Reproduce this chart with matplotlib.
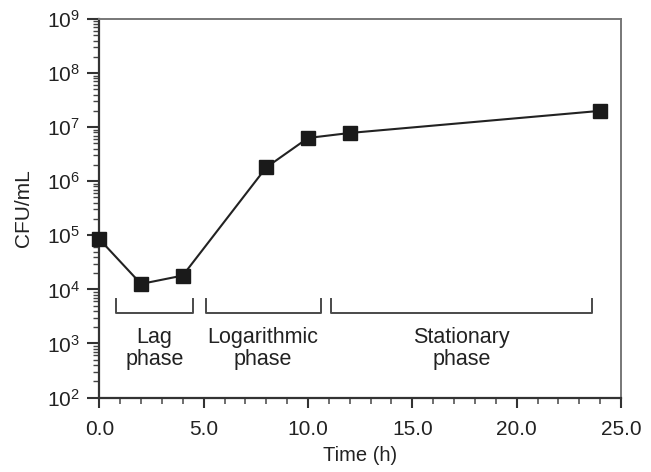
import matplotlib
matplotlib.use("Agg")
import matplotlib.pyplot as plt
from matplotlib.ticker import LogLocator, MultipleLocator, FuncFormatter

plt.rcParams['font.family'] = ['Liberation Sans', 'DejaVu Sans']

time_h = [0, 2, 4, 8, 10, 12, 24]
cfu = [8.5e4, 1.26e4, 1.8e4, 1.8e6, 6.3e6, 7.8e6, 2.0e7]

phase_labels = ["Lag\nphase", "Logarithmic\nphase", "Stationary\nphase"]
phase_start = [0.8, 5.1, 11.1]
phase_end = [4.5, 10.6, 23.6]

fig = plt.figure(figsize=(6.51, 4.72), dpi=100)
ax = fig.add_axes([99.3/651, 1-397.5/472, (621-99.3)/651, (397.5-19)/472])

ax.plot(time_h, cfu, color='#222222', lw=1.5, marker='s', ms=9.5,
        mfc='#1a1a1a', mec='#1a1a1a', zorder=3, clip_on=False)

ax.set_yscale('log')
ax.set_ylim(1e2, 1e9)
ax.set_xlim(0, 25)

br_top, br_bot = 6.5e3, 3.6e3
for s, e, lab in zip(phase_start, phase_end, phase_labels):
    ax.plot([s, s, e, e], [br_top, br_bot, br_bot, br_top], color='#4a4a4a', lw=1.4)
    ax.text((s + e) / 2, 8.0e2, lab, ha='center', va='center', fontsize=15.5,
            color='#222222', linespacing=1.1)

ax.xaxis.set_major_locator(MultipleLocator(5))
ax.xaxis.set_minor_locator(MultipleLocator(1))
ax.xaxis.set_major_formatter(FuncFormatter(lambda v, p: f"{v:.1f}"))
ax.yaxis.set_major_locator(LogLocator(base=10, numticks=20))
ax.yaxis.set_minor_locator(LogLocator(base=10, subs=range(2, 10), numticks=20))
ax.yaxis.set_minor_formatter(FuncFormatter(lambda v, p: ""))

ax.tick_params(axis='both', which='major', labelsize=15, colors='#333333',
               labelcolor='#222222', width=1.5)
ax.tick_params(axis='x', which='major', direction='out', length=7, pad=9)
ax.tick_params(axis='x', which='minor', direction='out', length=4, width=1.2, colors='#555555')
ax.tick_params(axis='y', which='major', direction='out', length=9, pad=5)
ax.tick_params(axis='y', which='minor', direction='out', length=4, width=1.0, colors='#444444')

for side in ['left', 'bottom']:
    ax.spines[side].set_color('#333333')
    ax.spines[side].set_linewidth(1.6)
for side in ['top', 'right']:
    ax.spines[side].set_color('#777777')
    ax.spines[side].set_linewidth(1.4)

ax.set_ylabel("CFU/mL", fontsize=15, color='#222222', labelpad=10)
ax.set_xlabel("Time (h)", fontsize=14.5, color='#222222', labelpad=5)

fig.savefig("out.png", dpi=100)
